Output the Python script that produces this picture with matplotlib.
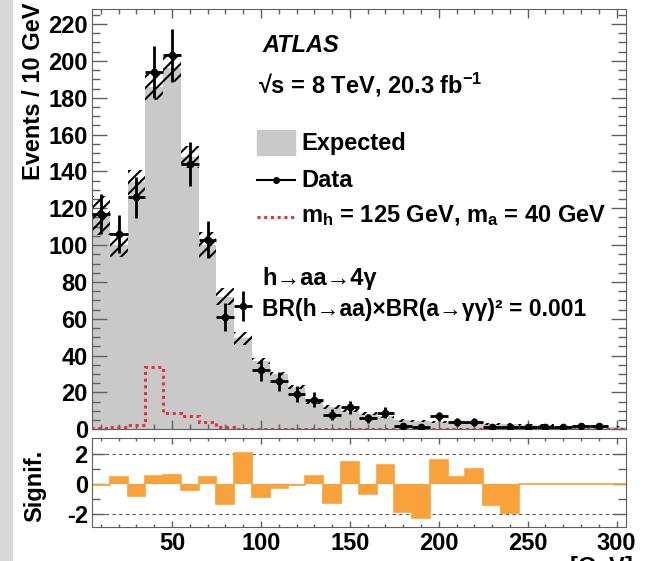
import numpy as np
import matplotlib
matplotlib.use('Agg')
import matplotlib.pyplot as plt
from matplotlib.patches import Rectangle
from matplotlib.lines import Line2D

# four-photon invariant mass, 10 GeV bins centred on 10..300 GeV
mass = np.arange(10, 301, 10)
edges = np.arange(5, 306, 10)

expected = [116, 100, 134, 186, 196, 148, 100, 72, 49.5, 37,
            30, 23, 15, 12, 10, 8.5, 7, 5, 4.5, 4,
            3.7, 3.4, 3.0, 2.8, 2.5, 2.2, 2.0, 1.8, 1.6, 1.5]
expected_err = [10.5, 6.5, 7, 7, 7.5, 6, 7, 4.5, 3.5, 1.5,
                1.2, 1.0, 1.0, 1.0, 0.8, 0.8, 0.8, 0.8, 0.8, 0.7,
                0.7, 0.7, 0.6, 0.6, 0.5, 0.5, 0.5, 0.5, 0.5, 0.5]
data = [117, 106, 126, 194, 203, 144, 103, 61, 67, 32,
        26, 19, 16, 8, 12, 6, 9, 2, 1, 7,
        4, 4, 1, 1, 1, 1, 1, 2, 2, np.nan]
signal = [0.5, 1, 2.5, 34, 9, 7, 4, 1.2, 0.3, 0.2,
          0.1, 0.1, 0.1, 0.1, 0.1, 0.1, 0.1, 0.1, 0.1, 0.1,
          0.1, 0.1, 0.1, 0.1, 0.1, 0.1, 0.1, 0.1, 0.1, 0.1]
signif = [-0.1, 0.5, -0.8, 0.55, 0.6, -0.4, 0.5, -1.35, 2.05, -0.9,
          -0.3, -0.1, 0.55, -1.25, 1.45, -0.65, 1.3, -1.85, -2.25, 1.6,
          0.5, 1.0, -1.4, -1.95, 0, 0, 0, 0, 0, 0]

plt.rcParams['font.family'] = ['Liberation Sans', 'DejaVu Sans']
plt.rcParams['font.weight'] = 'bold'
plt.rcParams['font.size'] = 17
plt.rcParams['axes.unicode_minus'] = False
plt.rcParams['mathtext.fontset'] = 'custom'
plt.rcParams['mathtext.rm'] = 'Liberation Sans:bold'
plt.rcParams['mathtext.it'] = 'Liberation Sans:bold:italic'
plt.rcParams['mathtext.bf'] = 'Liberation Sans:bold'
plt.rcParams['mathtext.default'] = 'rm'
plt.rcParams['hatch.linewidth'] = 1.5

W, H = 645, 561
GREY = '#c9c9c9'
ORANGE = '#f9a13a'
RED = '#e8303a'
FRAME = '#606060'


def fig_xy(x, y):
    # pixel position (from top-left) to figure fraction
    return x / W, 1 - y / H


fig = plt.figure(figsize=(W / 100, H / 100), dpi=100)

# textured strip on the left edge of the page
fig.patches.append(Rectangle((0, 0), 12 / W, 1, transform=fig.transFigure,
                             color='#d8d8d8', zorder=0))

ax = fig.add_axes([92 / W, 1 - 429.3 / H, 533.5 / W, 420 / H])
ax2 = fig.add_axes([92 / W, 1 - 526.7 / H, 533.5 / W, 88.4 / H])

# ---- main panel ----
exp = np.array(expected)
err = np.array(expected_err)
ax.stairs(exp, edges, fill=True, color=GREY, zorder=1)
ax.bar(mass, 2 * err, bottom=exp - err, width=10, fill=False,
       hatch='///', edgecolor='black', linewidth=0, zorder=2)
ax.stairs(signal, edges, color=RED, linestyle=(0, (1, 1.2)), linewidth=2.2,
          zorder=3)
d = np.array(data, dtype=float)
ax.errorbar(mass, d, yerr=np.sqrt(d), xerr=5, fmt='o', color='black',
            markersize=4.5, elinewidth=2, capsize=0, zorder=4)

ax.set_xlim(5, 305)
ax.set_ylim(0, 228)
ax.set_xticks(np.arange(50, 301, 50))
ax.set_xticks(np.arange(10, 301, 10), minor=True)
ax.set_yticks(np.arange(0, 221, 20))
ax.set_yticks(np.arange(0, 226, 5), minor=True)
ax.tick_params(which='both', direction='in', top=True, right=True,
               color=FRAME, labelbottom=False)
ax.tick_params(axis='y', which='major', length=10.8, width=1, pad=3)
ax.tick_params(axis='y', which='minor', length=5.8, width=1)
ax.tick_params(axis='x', which='major', length=6.5, width=1)
ax.tick_params(axis='x', which='minor', length=3.6, width=1)
for s in ax.spines.values():
    s.set_color(FRAME)

# ---- significance panel ----
ax2.stairs(signif, edges, fill=True, color=ORANGE, zorder=2)
ax2.stairs(signif, edges, color=ORANGE, linewidth=1.2, zorder=2)
for yl in (2, -2):
    ax2.axhline(yl, color='#555555', linestyle=(0, (3, 3)), linewidth=0.8,
                zorder=1)
ax2.set_xlim(5, 305)
ax2.set_ylim(-2.85, 3.05)
ax2.set_xticks(np.arange(50, 301, 50))
ax2.set_xticks(np.arange(10, 301, 10), minor=True)
ax2.set_yticks([-2, 0, 2])
ax2.set_yticks([-1, 1], minor=True)
ax2.tick_params(which='both', direction='in', top=True, right=True,
                color=FRAME)
ax2.tick_params(axis='y', which='major', length=9.4, width=1, pad=3)
ax2.tick_params(axis='y', which='minor', length=5.8, width=1)
ax2.tick_params(axis='x', which='major', length=4.3, width=1, pad=3.6)
ax2.tick_params(axis='x', which='minor', length=2.2, width=1)
for s in ax2.spines.values():
    s.set_color(FRAME)

# ---- axis titles ----
fig.text(*fig_xy(34, 3), 'Events / 10 GeV', rotation=90, ha='center',
         va='top')
fig.text(*fig_xy(35, 450), 'Signif.', rotation=90, ha='center', va='top')
fig.text(*fig_xy(633, 555), r'm$_{\gamma\gamma\gamma\gamma}$ [GeV]',
         ha='right', va='top')

# ---- labels and legend ----
fig.text(*fig_xy(262, 52), 'ATLAS', style='italic', va='baseline')
fig.text(*fig_xy(258, 93), r'√s = 8 TeV, 20.3 fb$^{-1}$', va='baseline')

fig.patches.append(Rectangle(fig_xy(257, 155), 38 / W, 25 / H,
                             transform=fig.transFigure, color=GREY))
fig.text(*fig_xy(301, 150), 'Expected', va='baseline')

x0, y0 = fig_xy(257, 180)
x1, _ = fig_xy(295, 180)
fig.lines.append(Line2D([x0, x1], [y0, y0], transform=fig.transFigure,
                        color='black', linewidth=1.5))
fig.lines.append(Line2D([(x0 + x1) / 2], [y0], transform=fig.transFigure,
                        color='black', marker='o', markersize=4))
fig.text(*fig_xy(301, 187), 'Data', va='baseline')

x0, y0 = fig_xy(257, 217)
fig.lines.append(Line2D([x0, x1], [y0, y0], transform=fig.transFigure,
                        color=RED, linestyle=(0, (1, 1.2)), linewidth=2.2))
fig.text(*fig_xy(301, 222),
         r'm$_{h}$ = 125 GeV, m$_{a}$ = 40 GeV', va='baseline')

fig.text(*fig_xy(262, 285), 'h→aa→4γ', va='baseline')
fig.text(*fig_xy(262, 316), 'BR(h→aa)×BR(a→γγ)² = 0.001', va='baseline',
         fontsize=16.5)

fig.savefig('out.png', dpi=100)
